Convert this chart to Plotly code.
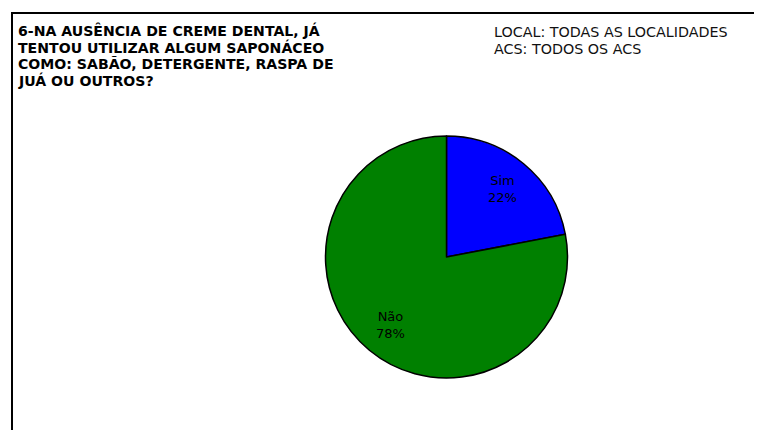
import math
import plotly.graph_objects as go

W, H = 757, 430

# Survey answers
labels = ["Sim", "Não"]
values = [22, 78]
colors = ["#0000FF", "#008000"]

title_lines = [
    "6-NA AUSÊNCIA DE CREME DENTAL, JÁ",
    "TENTOU UTILIZAR ALGUM SAPONÁCEO",
    "COMO: SABÃO, DETERGENTE, RASPA DE",
    "JUÁ OU OUTROS?",
]
info_lines = ["LOCAL: TODAS AS LOCALIDADES", "ACS: TODOS OS ACS"]

# pie geometry in pixels
cx, cy, R = 446.5, 257.0, 121.0


def px(x):
    return x / W


def py(y):
    return 1 - y / H


fig = go.Figure(
    go.Pie(
        labels=labels,
        values=values,
        marker=dict(colors=colors, line=dict(color="black", width=1.5)),
        sort=False,
        direction="clockwise",
        rotation=0,
        textinfo="none",
        hoverinfo="label+percent",
        domain=dict(x=[px(cx - R), px(cx + R)], y=[py(cy + R), py(cy - R)]),
        showlegend=False,
    )
)

annotations = []
# slice labels placed along each slice's mid-angle
total = sum(values)
start = 0.0
for lab, v in zip(labels, values):
    frac = v / total
    mid = (start + frac / 2) * 2 * math.pi
    start += frac
    r = 0.73 * R
    x = cx + r * math.sin(mid)
    y = cy - r * math.cos(mid)
    annotations.append(
        dict(
            x=px(x), y=py(y), xref="paper", yref="paper",
            text=f"{lab}<br>{round(frac * 100)}%",
            showarrow=False, xanchor="center", yanchor="middle",
            font=dict(family="DejaVu Sans", size=13, color="black"),
        )
    )

# question text, one line per annotation
for i, line in enumerate(title_lines):
    annotations.append(
        dict(
            x=px(16), y=py(30 + 17 * i), xref="paper", yref="paper",
            text=f"<b>{line}</b>",
            showarrow=False, xanchor="left", yanchor="middle", align="left",
            font=dict(family="DejaVu Sans", size=14.1, color="black"),
        )
    )

for i, line in enumerate(info_lines):
    annotations.append(
        dict(
            x=px(492), y=py(32 + 16.5 * i), xref="paper", yref="paper",
            text=line,
            showarrow=False, xanchor="left", yanchor="middle", align="left",
            font=dict(family="DejaVu Sans", size=14.3, color="#111111"),
        )
    )

shapes = [
    dict(type="line", xref="paper", yref="paper", x0=px(11), x1=px(754), y0=py(13), y1=py(13),
         line=dict(color="black", width=2)),
    dict(type="line", xref="paper", yref="paper", x0=px(12), x1=px(12), y0=py(13), y1=0,
         line=dict(color="black", width=2)),
]

fig.update_layout(
    width=W, height=H,
    margin=dict(l=0, r=0, t=0, b=0),
    paper_bgcolor="white",
    plot_bgcolor="white",
    annotations=annotations,
    shapes=shapes,
)

fig.write_html("out.html")
